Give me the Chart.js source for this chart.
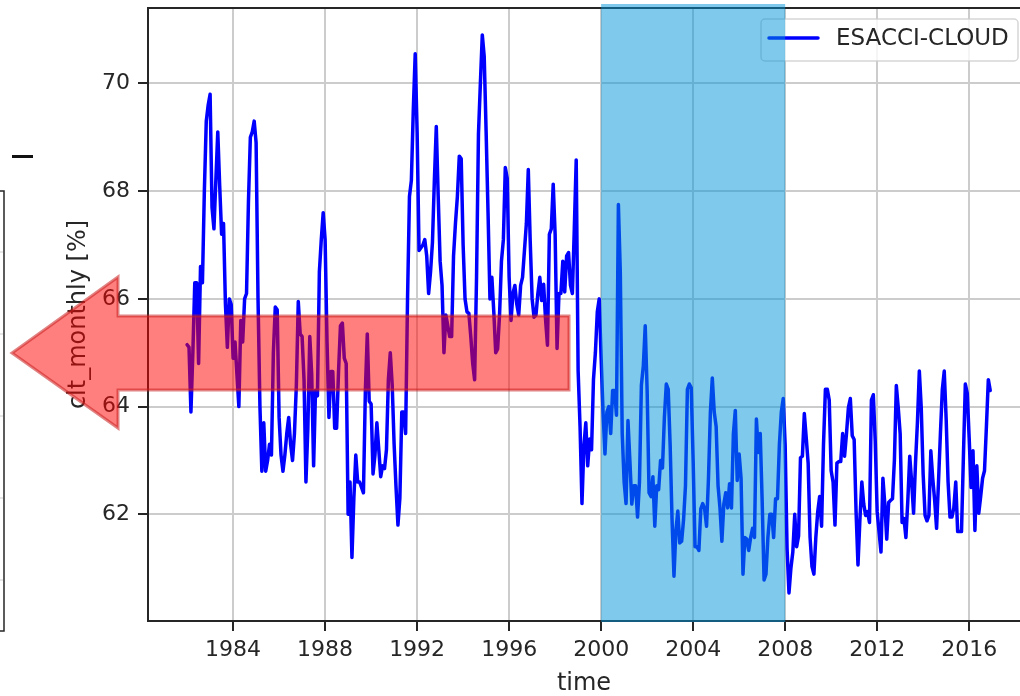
<!DOCTYPE html>
<html>
<head>
<meta charset="utf-8">
<script src="https://cdn.jsdelivr.net/npm/chart.js@4.4.1/dist/chart.umd.min.js"></script>
<style>
html, body { margin: 0; padding: 0; background: #ffffff; overflow: hidden; }
#contenedor { width: 1020px; height: 696px; position: relative; }
</style>
</head>
<body>
<div id="contenedor"><canvas id="miGrafico" width="1020" height="696"></canvas></div>
<script>
// Datos (cobertura nubosa mensual, %)
var nombre_serie = 'ESACCI-CLOUD';
var anio_inicio = 1982;
var clt_mensual = [
    65.15, 65.1, 63.9, 65.0, 66.3, 66.3, 64.8, 66.6, 66.3, 68.0, 69.3, 69.6,      // 1982
    69.8, 67.7, 67.3, 68.2, 69.1, 68.1, 67.2, 67.4, 65.9, 65.1, 66.0, 65.9,       // 1983
    64.9, 65.2, 64.6, 64.0, 65.6, 65.2, 66.0, 66.1, 67.8, 69.0, 69.1, 69.3,       // 1984
    68.9, 66.0, 64.0, 62.8, 63.7, 62.8, 63.0, 63.3, 63.1, 65.0, 65.85, 65.8,      // 1985
    63.8, 63.1, 62.8, 63.1, 63.5, 63.8, 63.3, 63.0, 63.5, 64.4, 65.95, 65.35,     // 1986
    65.3, 64.5, 62.6, 63.6, 65.3, 64.6, 62.9, 64.3, 64.2, 66.5, 67.1, 67.6,       // 1987
    67.1, 65.2, 63.8, 64.65, 64.65, 63.6, 63.6, 64.65, 65.5, 65.55, 64.9, 64.8,   // 1988
    62.0, 62.6, 61.2, 62.3, 63.1, 62.6, 62.6, 62.5, 62.4, 64.3, 65.35, 64.1,      // 1989
    64.05, 62.75, 63.1, 63.7, 63.2, 62.7, 62.9, 62.85, 63.2, 64.5, 65.0, 64.4,    // 1990
    63.3, 62.5, 61.8, 62.3, 63.9, 63.9, 63.5, 66.0, 67.9, 68.2, 69.5, 70.55,      // 1991
    69.1, 66.9, 66.95, 67.0, 67.1, 66.8, 66.1, 66.5, 67.05, 68.2, 69.2, 67.9,     // 1992
    66.7, 66.25, 65.0, 65.7, 65.5, 65.3, 65.3, 66.8, 67.4, 67.9, 68.65, 68.6,     // 1993
    67.0, 66.0, 65.76, 65.73, 65.3, 64.8, 64.5, 66.4, 69.06, 70.0, 70.9, 70.5,    // 1994
    69.1, 67.6, 66.0, 66.4, 65.76, 65.0, 65.07, 65.7, 66.7, 67.1, 68.44, 68.24,   // 1995
    66.4, 65.6, 66.1, 66.25, 65.9, 65.7, 66.25, 66.4, 66.9, 67.4, 68.4, 67.07,    // 1996
    66.0, 65.66, 65.7, 66.1, 66.4, 65.97, 66.27, 65.62, 65.14, 67.2, 67.3, 68.13, // 1997
    67.2, 65.08, 66.1, 66.1, 66.7, 66.13, 66.8, 66.86, 66.25, 66.1, 67.3, 68.58,  // 1998
    64.66, 63.63, 62.2, 63.27, 63.7, 62.9, 63.4, 63.2, 64.5, 65.0, 65.76, 66.0,   // 1999
    64.9, 63.9, 63.12, 63.9, 64.0, 63.5, 64.3, 64.3, 63.84, 67.75, 66.5, 63.5,    // 2000
    62.6, 62.2, 63.74, 63.0, 62.19, 62.53, 62.53, 61.95, 62.6, 64.4, 64.75, 65.5, // 2001
    64.3, 62.4, 62.33, 62.7, 61.78, 62.53, 62.46, 63.0, 62.86, 63.8, 64.42, 64.32,// 2002
    63.29, 61.9, 60.85, 61.7, 62.06, 61.47, 61.5, 61.9, 62.53, 64.32, 64.42, 64.35,// 2003
    63.0, 61.4, 61.4, 61.33, 62.1, 62.2, 62.1, 61.78, 62.67, 63.9, 64.53, 63.9,   // 2004
    63.63, 62.53, 62.12, 61.5, 62.19, 62.4, 62.12, 62.57, 62.12, 63.5, 63.93, 62.63,// 2005
    63.12, 62.67, 60.89, 61.57, 61.54, 61.33, 61.57, 61.74, 61.57, 63.77, 63.15, 63.5,// 2006
    62.26, 60.78, 60.89, 61.57, 62.0, 62.0, 61.57, 62.29, 62.29, 63.3, 63.9, 64.15,// 2007
    63.29, 61.36, 60.54, 61.0, 61.3, 62.0, 61.4, 61.6, 63.05, 63.08, 63.87, 63.42,// 2008
    62.95, 61.57, 61.03, 60.89, 61.57, 62.05, 62.33, 61.78, 63.29, 64.32, 64.32, 64.12,// 2009
    62.81, 62.6, 61.8, 62.95, 62.98, 62.98, 63.5, 63.08, 63.5, 63.98, 64.15, 63.46,// 2010
    63.39, 62.05, 61.06, 61.9, 62.6, 62.19, 61.98, 62.05, 61.85, 64.12, 64.22, 63.36,// 2011
    62.05, 61.67, 61.3, 62.67, 62.19, 61.54, 62.22, 62.26, 62.29, 63.01, 64.39, 63.98,// 2012
    63.5, 61.85, 61.92, 61.57, 62.26, 63.08, 62.6, 62.02, 62.95, 63.7, 64.66, 63.98,// 2013
    62.74, 61.98, 61.88, 61.98, 63.18, 62.67, 62.26, 61.74, 62.6, 63.5, 64.32, 64.66,// 2014
    63.77, 62.6, 61.95, 61.95, 62.12, 62.6, 61.68, 61.68, 61.68, 63.08, 64.42, 64.25,// 2015
    63.42, 62.5, 63.18, 61.7, 62.9, 62.02, 62.33, 62.67, 62.81, 63.63, 64.5, 64.3  // 2016
];
var ticks_x = [1984, 1988, 1992, 1996, 2000, 2004, 2008, 2012, 2016];
var ticks_y = [62, 64, 66, 68, 70];
var periodo_sombreado = [2000, 2008];
var limites_x = [1980.3, 2018.21];
var limites_y = [60.02, 71.4];

var fuente = 'DejaVu Sans';
var color_texto = '#262626';

// Puntos (año decimal, valor)
var puntos = clt_mensual.map(function(valor, i) {
    return { x: anio_inicio + i / 12, y: valor };
});

// Leyenda dentro del área, borde superior y anotaciones superpuestas
var plugin_extras = {
    id: 'extras',
    afterDatasetsDraw: function(chart) {
        var ctx = chart.ctx;
        var area = chart.chartArea;
        ctx.save();
        // borde superior del eje
        ctx.strokeStyle = color_texto;
        ctx.lineWidth = 2;
        ctx.beginPath();
        ctx.moveTo(area.left - 1, area.top);
        ctx.lineTo(area.right, area.top);
        ctx.stroke();

        // leyenda
        var x0 = 761, y0 = 19, ancho = 257, alto = 42;
        ctx.fillStyle = 'rgba(255,255,255,0.8)';
        ctx.strokeStyle = 'rgba(204,204,204,0.8)';
        ctx.lineWidth = 1.5;
        ctx.beginPath();
        ctx.roundRect(x0, y0, ancho, alto, 4);
        ctx.fill();
        ctx.stroke();
        ctx.strokeStyle = '#0000ff';
        ctx.lineWidth = 3.5;
        ctx.lineCap = 'round';
        ctx.beginPath();
        ctx.moveTo(x0 + 8, y0 + 19);
        ctx.lineTo(x0 + 57, y0 + 19);
        ctx.stroke();
        ctx.fillStyle = color_texto;
        ctx.font = '23px "' + fuente + '"';
        ctx.textBaseline = 'middle';
        ctx.textAlign = 'left';
        ctx.fillText(chart.data.datasets[0].label, x0 + 75, y0 + 20);
        ctx.restore();
    },
    afterDraw: function(chart) {
        var ctx = chart.ctx;
        var area = chart.chartArea;
        var escala_x = chart.scales.x;
        ctx.save();

        // franja azul 2000-2008
        var xa = escala_x.getPixelForValue(periodo_sombreado[0]);
        var xb = escala_x.getPixelForValue(periodo_sombreado[1]);
        ctx.fillStyle = 'rgba(0,147,217,0.5)';
        ctx.fillRect(xa, area.top - 4, xb - xa, area.bottom - area.top + 5);

        // flecha roja
        ctx.beginPath();
        ctx.moveTo(12, 353);
        ctx.lineTo(118, 277);
        ctx.lineTo(118, 316);
        ctx.lineTo(569, 316);
        ctx.lineTo(569, 390);
        ctx.lineTo(118, 390);
        ctx.lineTo(118, 428);
        ctx.closePath();
        ctx.fillStyle = 'rgba(255,0,0,0.5)';
        ctx.fill();
        ctx.strokeStyle = 'rgba(200,30,30,0.55)';
        ctx.lineWidth = 3;
        ctx.lineJoin = 'miter';
        ctx.stroke();

        // restos del panel vecino recortado
        ctx.strokeStyle = color_texto;
        ctx.lineWidth = 1.5;
        ctx.beginPath();
        ctx.moveTo(0, 191);
        ctx.lineTo(4, 191);
        ctx.lineTo(4, 631);
        ctx.lineTo(0, 631);
        ctx.stroke();
        ctx.strokeStyle = '#cccccc';
        ctx.lineWidth = 1;
        [252, 334, 416, 498, 580].forEach(function(y) {
            ctx.beginPath();
            ctx.moveTo(0, y);
            ctx.lineTo(3, y);
            ctx.stroke();
        });
        ctx.fillStyle = '#111111';
        ctx.fillRect(12, 155, 21, 3);
        ctx.restore();
    }
};

function crear_grafico() {
    var contexto = document.getElementById('miGrafico').getContext('2d');
    return new Chart(contexto, {
        type: 'line',
        data: {
            datasets: [{
                label: nombre_serie,
                data: puntos,
                borderColor: '#0000ff',
                borderWidth: 3.5,
                pointRadius: 0,
                tension: 0,
                fill: false,
                borderJoinStyle: 'round',
                borderCapStyle: 'round'
            }]
        },
        options: {
            responsive: false,
            animation: false,
            devicePixelRatio: 1,
            layout: { padding: { top: 8, left: 0, right: 0, bottom: 0 } },
            plugins: { legend: { display: false }, tooltip: { enabled: false } },
            scales: {
                x: {
                    type: 'linear',
                    min: limites_x[0],
                    max: limites_x[1],
                    afterBuildTicks: function(escala) {
                        escala.ticks = ticks_x.map(function(v) { return { value: v }; });
                    },
                    afterFit: function(escala) {
                        escala.height = 75;
                        escala.paddingLeft = 0;
                        escala.paddingRight = 0;
                    },
                    grid: { color: '#cccccc', lineWidth: 2, tickColor: color_texto, tickLength: 10, tickWidth: 2 },
                    border: { display: true, color: color_texto, width: 2 },
                    ticks: {
                        font: { family: fuente, size: 22 },
                        color: color_texto,
                        padding: 6,
                        maxRotation: 0,
                        autoSkip: false,
                        callback: function(valor) { return String(valor); }
                    },
                    title: {
                        display: true,
                        text: 'time',
                        font: { family: fuente, size: 24, lineHeight: 1 },
                        color: color_texto,
                        padding: { top: 0, bottom: 0 }
                    }
                },
                y: {
                    min: limites_y[0],
                    max: limites_y[1],
                    afterBuildTicks: function(escala) {
                        escala.ticks = ticks_y.map(function(v) { return { value: v }; });
                    },
                    afterFit: function(escala) {
                        escala.width = 148;
                        escala.paddingTop = 0;
                        escala.paddingBottom = 0;
                    },
                    grid: { color: '#cccccc', lineWidth: 2, tickColor: color_texto, tickLength: 10, tickWidth: 2 },
                    border: { display: true, color: color_texto, width: 2 },
                    ticks: {
                        font: { family: fuente, size: 22 },
                        color: color_texto,
                        padding: 8,
                        callback: function(valor) { return String(valor); }
                    },
                    title: {
                        display: true,
                        text: 'clt_monthly [%]',
                        font: { family: fuente, size: 24, lineHeight: 1 },
                        color: color_texto,
                        padding: { top: 67, bottom: 0 }
                    }
                }
            }
        },
        plugins: [plugin_extras]
    });
}

crear_grafico();
</script>
</body>
</html>
